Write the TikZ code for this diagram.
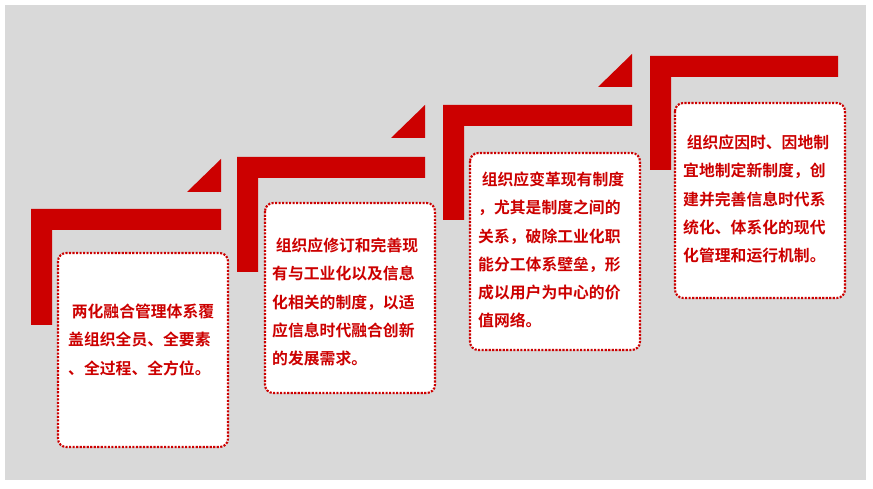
\documentclass[tikz,border=0pt]{standalone}
\usepackage{fontspec}
\newfontfamily\cjk{Noto Sans CJK SC Bold}
\definecolor{stepred}{HTML}{CC0000}
\definecolor{bggray}{HTML}{D9D9D9}
\tikzset{
  stepbar/.style={fill=stepred,draw=none},
  notebox/.style={draw=stepred,fill=white,line width=1.8pt,dash pattern=on 1.8pt off 1.2pt,rounded corners=7pt},
  notetext/.style={anchor=north west,text=stepred,align=left,inner sep=0pt,
    font=\cjk\fontsize{13.5}{24}\selectfont}
}
\begin{document}
\begin{tikzpicture}[x=0.03cm,y=-0.03cm]
  \useasboundingbox (0,0) rectangle (873,489);
  \fill[bggray] (5,5) rectangle (866,480);

  % Steps: corner of the L, bar end, lower end of the upright
  \foreach \x/\y/\e/\d in {31/209/221/325, 237/157/425/272, 443/105/632/220, 650/56/838/170}{
    \fill[stepbar] (\x,\y) -- (\e,\y) -- (\e,\y+21) -- (\x+21,\y+21)
      -- (\x+21,\d) -- (\x,\d) -- cycle;
  }
  % Triangles
  \foreach \e/\y in {221/192, 425/138, 632/87}{
    \fill[stepbar] (\e-34,\y) -- (\e,\y-33) -- (\e,\y) -- cycle;
  }

  % Boxes
  \draw[notebox] (58,253) rectangle (228,447);
  \draw[notebox] (265,203) rectangle (435,393);
  \draw[notebox] (470,153) rectangle (640,350);
  \draw[notebox] (675,103) rectangle (845,298);

  % Texts
  \node[notetext] (t1) at (68,304) {\ 两化融合管理体系覆\\盖组织全员、全要素\\、全过程、全方位。};
  \node[notetext] (t2) at (272,238) {\ 组织应修订和完善现\\有与工业化以及信息\\化相关的制度，以适\\应信息时代融合创新\\的发展需求。};
  \node[notetext] (t3) at (478,172) {\ 组织应变革现有制度\\，尤其是制度之间的\\关系，破除工业化职\\能分工体系壁垒，形\\成以用户为中心的价\\值网络。};
  \node[notetext] (t4) at (683,135) {\ 组织应因时、因地制\\宜地制定新制度，创\\建并完善信息时代系\\统化、体系化的现代\\化管理和运行机制。};
\end{tikzpicture}
\end{document}
